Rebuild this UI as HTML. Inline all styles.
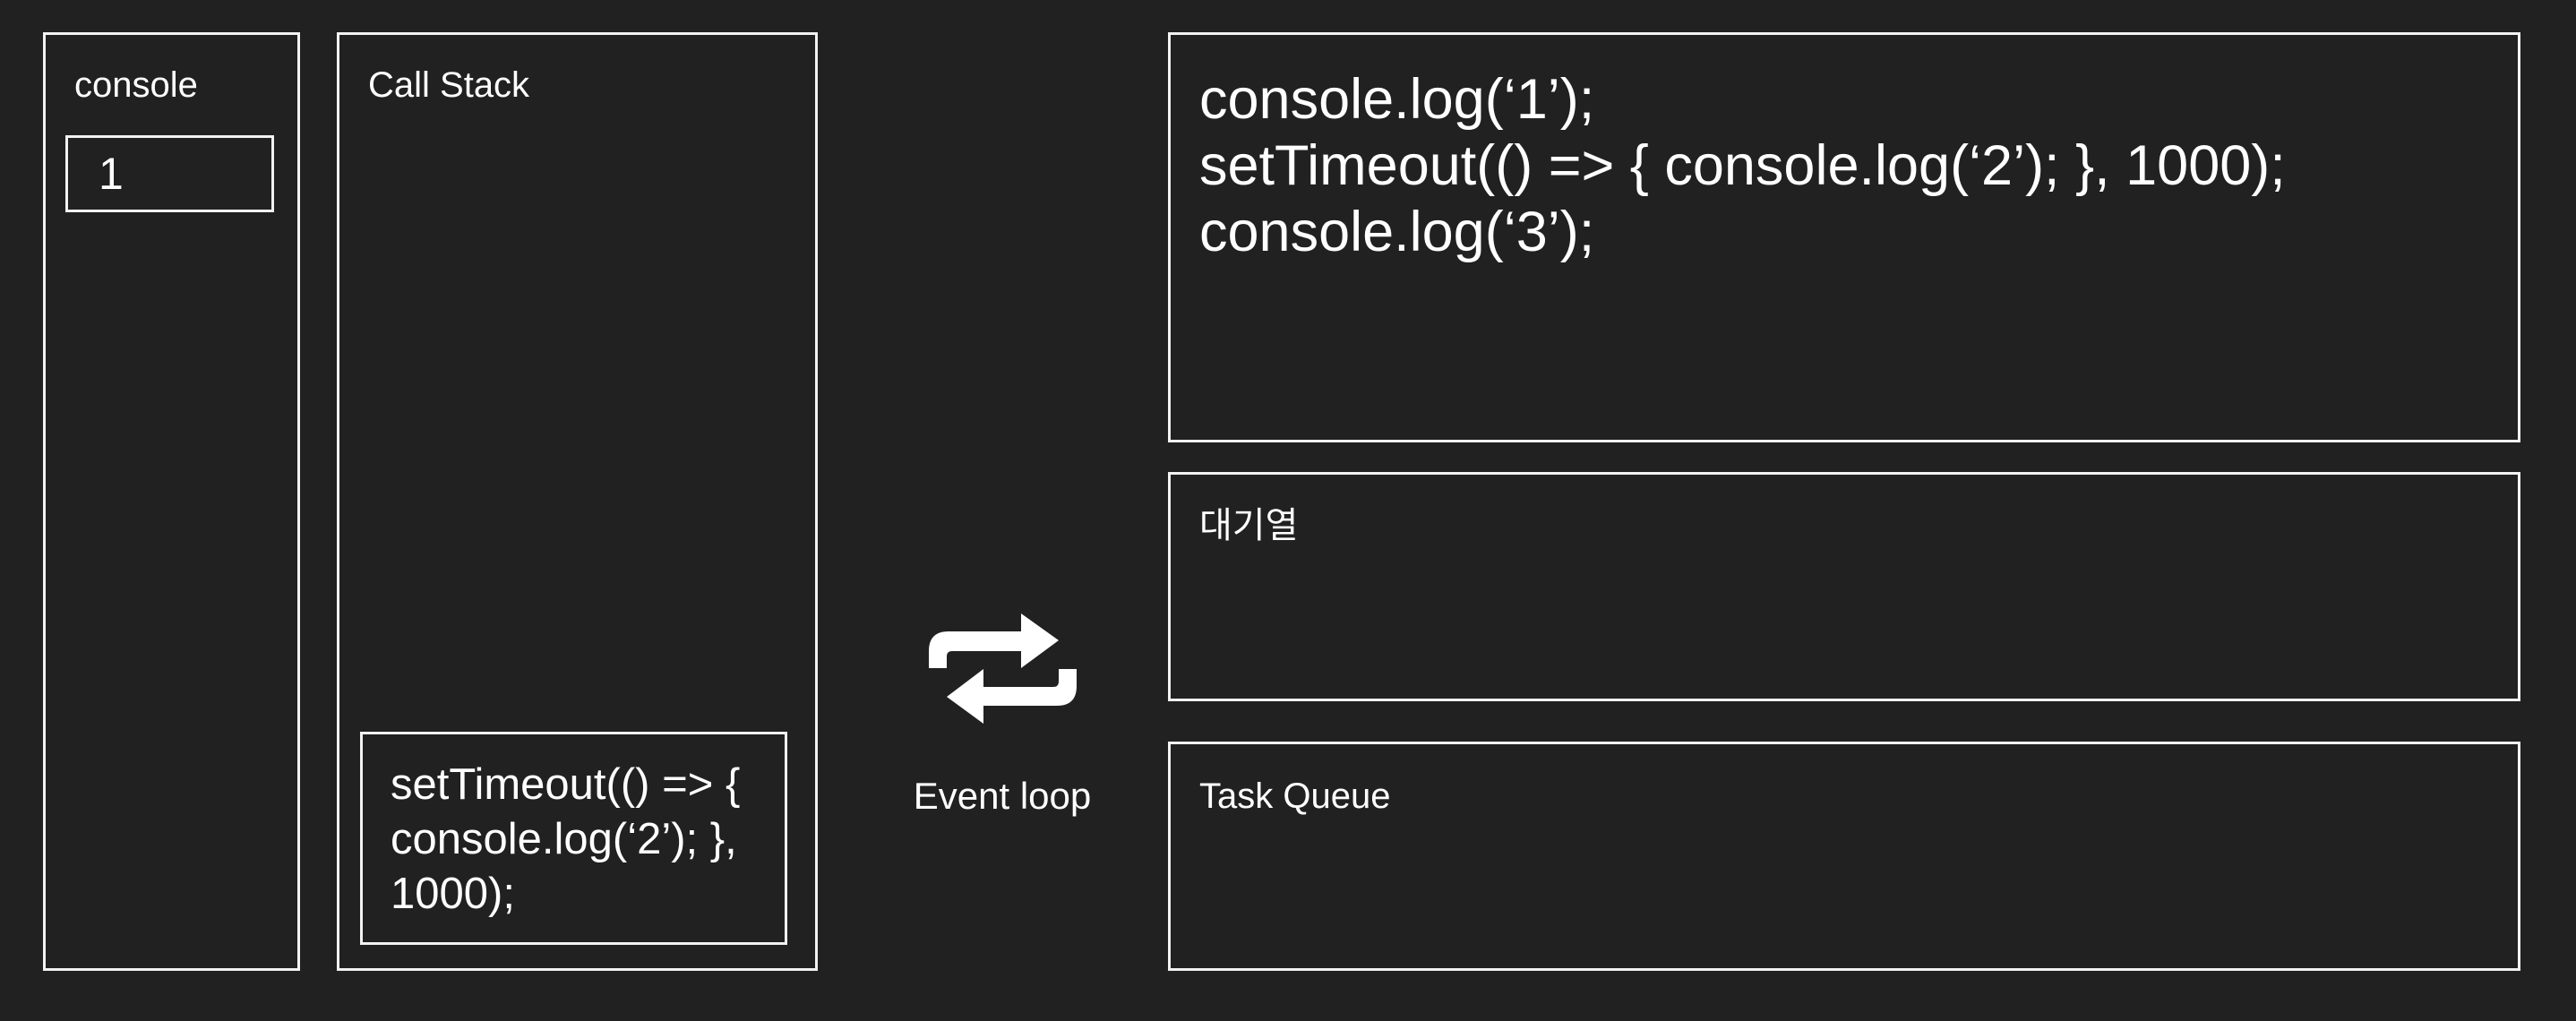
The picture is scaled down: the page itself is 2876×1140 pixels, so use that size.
<!DOCTYPE html>
<html><head><meta charset="utf-8"><style>
html,body{margin:0;padding:0;background:#212121;}
body{width:2876px;height:1140px;position:relative;overflow:hidden;font-family:"Liberation Sans","Noto Sans CJK KR",sans-serif;color:#fff;}
.b{position:absolute;border:3px solid #f2f2f2;box-sizing:border-box;}
.t{position:absolute;white-space:nowrap;}
</style></head><body>
<div class="b" style="left:48px;top:36px;width:287px;height:1048px"></div>
<div class="b" style="left:73px;top:151px;width:233px;height:86px"></div>
<div class="b" style="left:376px;top:36px;width:537px;height:1048px"></div>
<div class="b" style="left:402px;top:817px;width:477px;height:238px"></div>
<div class="b" style="left:1304px;top:36px;width:1510px;height:458px"></div>
<div class="b" style="left:1304px;top:527px;width:1510px;height:256px"></div>
<div class="b" style="left:1304px;top:828px;width:1510px;height:256px"></div>

<div class="t" style="left:83px;top:75px;font-size:40px;line-height:40px">console</div>
<div class="t" style="left:110px;top:168px;font-size:50px;line-height:52px">1</div>
<div class="t" style="left:411px;top:75px;font-size:40px;line-height:40px">Call Stack</div>
<div class="t" style="left:436px;top:846px;font-size:49px;line-height:61px">setTimeout(() =&gt; {<br>console.log(‘2’); },<br>1000);</div>
<div class="t" style="left:1339px;top:74px;font-size:63px;line-height:74px">console.log(‘1’);<br>setTimeout(() =&gt; { console.log(‘2’); }, 1000);<br>console.log(‘3’);</div>
<div class="t" style="left:1339px;top:566px;font-size:40px;line-height:42px">대기열</div>
<div class="t" style="left:1339px;top:868px;font-size:40px;line-height:42px">Task Queue</div>
<div class="t" style="left:1009px;top:868px;width:220px;text-align:center;font-size:42px;line-height:42px">Event loop</div>

<svg style="position:absolute;left:0;top:0" width="2876" height="1140">
<path fill="#fff" d="M1037 746 V727 Q1037 705 1059 705 H1140 V685 L1182 715 L1140 746 V727 H1063 Q1057 727 1057 733 V746 Z"/>
<path fill="#fff" d="M1202 747 V766 Q1202 788 1180 788 H1098 V808 L1057 778 L1098 747 V767 H1176 Q1182 767 1182 761 V747 Z"/>
</svg>
</body></html>
